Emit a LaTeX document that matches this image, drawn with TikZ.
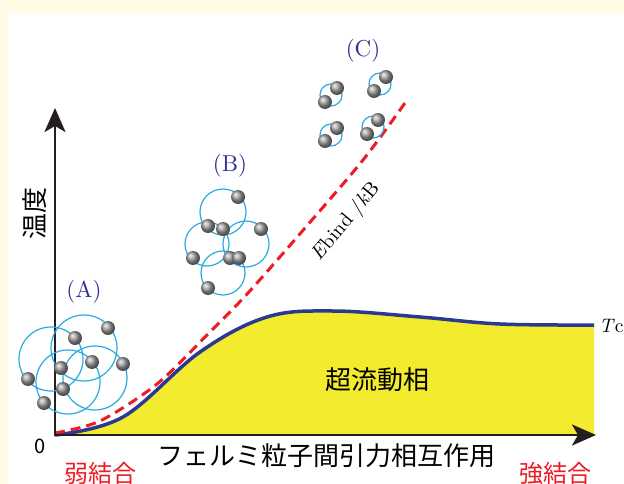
\documentclass[tikz,border=0pt]{standalone}
\usepackage{fontspec}
\setmainfont{lmroman10-regular.otf}[ItalicFont=lmroman10-italic.otf]
\newfontfamily\jpfont{Noto Sans CJK JP}
\usetikzlibrary{arrows.meta}

\definecolor{panelcream}{rgb}{1.0,0.984,0.898}
\definecolor{phaseyellow}{rgb}{0.953,0.922,0.180}
\definecolor{tcblue}{rgb}{0.169,0.224,0.565}
\definecolor{bindred}{rgb}{0.929,0.110,0.141}
\definecolor{pairblue}{rgb}{0.161,0.671,0.886}
\definecolor{labelblue}{rgb}{0.180,0.192,0.573}
\definecolor{axisblack}{rgb}{0.137,0.122,0.125}

\tikzset{
  axis/.style={axisblack,line width=2.6pt,-{Stealth[length=24pt,width=21pt,inset=6pt]}},
  pairring/.style={pairblue,line width=1.2pt},
  atom/.style={ball color=gray!75},
  regime/.style={labelblue,font=\fontsize{23}{23}\selectfont},
  jp/.style={font=\jpfont\fontsize{#1}{#1}\selectfont},
}

\begin{document}
\begin{tikzpicture}[x=1pt,y={(0,-1pt)}]
\useasboundingbox (0,0) rectangle (624,484);
\fill[panelcream] (0,0) rectangle (624,484);
\fill[white] (8,13) rectangle (624,484);

% superfluid region under Tc
\fill[phaseyellow] plot[smooth,tension=0.6] coordinates
  {(55,435) (123,417) (200,352) (267,317) (333,311) (420,317) (500,324) (594,325)}
  -- (594,435) -- cycle;
\draw[tcblue,line width=3.5pt] plot[smooth,tension=0.6] coordinates
  {(55,435) (123,417) (200,352) (267,317) (333,311) (420,317) (500,324) (594,325)};
\draw[bindred,line width=3pt,dash pattern=on 10pt off 6pt] plot[smooth,tension=0.5] coordinates
  {(55,433) (100,421) (157,384) (207,335) (248,293) (305,228) (363,160) (405,103)};

% axes
\coordinate (origin) at (55,435);
\coordinate (ytip) at (55,108);
\coordinate (xtip) at (596,435);
\draw[axis] ([yshift=1.3pt]origin) -- (ytip);
\draw[axis] ([xshift=-1.3pt]origin) -- (xtip);

% (A) weak coupling: large overlapping pairs
\foreach \x/\y/\r in {84/348/33, 51/359/32, 95/378/32, 68/382/32}
  \draw[pairring] (\x,\y) circle (\r);
\foreach \x/\y in {108/328, 75/338, 92/362, 123/364, 61/368, 28/379, 63/389, 44/403}
  \shade[atom] (\x,\y) circle (7);

% (B)
\foreach \x/\y/\r in {223/212/23, 207/244/22, 246/244/23, 223/273/22}
  \draw[pairring] (\x,\y) circle (\r);
\foreach \x/\y in {238/197, 208/226, 223/229, 261/229, 193/258, 230/258, 239/258, 208/288}
  \shade[atom] (\x,\y) circle (7);

% (C) strong coupling: tight molecules
\foreach \x/\y in {331/95, 380/84, 331/135, 373/127}
  \draw[pairring] (\x,\y) circle (11);
\foreach \x/\y in {337/88, 325/102, 386/77, 374/91, 337/128, 325/141, 378/120, 367/134}
  \shade[atom] (\x,\y) circle (7);

% labels
\node[regime] (labA) at (84,292) {(A)};
\node[regime] (labB) at (230,166) {(B)};
\node[regime] (labC) at (363,51) {(C)};
\node[rotate=50,font=\fontsize{20}{20}\selectfont] (ebind) at (346,222) {\textit{E}bind /\textit{k}B};
\node[anchor=base west,inner sep=0pt,font=\fontsize{19.5}{19.5}\selectfont] (tc) at (599,332) {\textit{T}c};
\node[jp=26] (phase) at (377,380) {超流動相};
\node[jp=20] (zero) at (40,446) {0};
\node[jp=26,rotate=90] (ylab) at (35,213) {温度};
\node[jp=26] (xlab) at (326,456) {フェルミ粒子間引力相互作用};
\node[jp=24,bindred] (weak) at (100,473) {弱結合};
\node[jp=24,bindred] (strong) at (555,473) {強結合};
\end{tikzpicture}
\end{document}
